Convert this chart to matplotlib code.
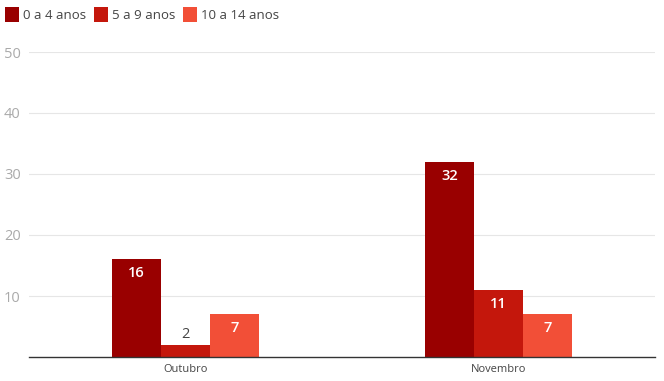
import matplotlib.pyplot as plt
import numpy as np

plt.rcParams['font.family'] = ['Open Sans', 'DejaVu Sans']

categories = ['Outubro', 'Novembro']
series_names = ['0 a 4 anos', '5 a 9 anos', '10 a 14 anos']
values = [
    [16, 32],
    [2, 11],
    [7, 7],
]
colors = ['#990000', '#c4170c', '#f24f37']
yticks = [10, 20, 30, 40, 50]

fig = plt.figure(figsize=(6.64, 3.81), dpi=100)
ax = fig.add_axes([29 / 664, 24 / 381, 626 / 664, 305 / 381])

x = np.arange(len(categories))
w = 0.156
for i, (name, vals, c) in enumerate(zip(series_names, values, colors)):
    pos = x + (i - 1) * w
    bars = ax.bar(pos, vals, width=w, color=c, label=name)
    for b, v in zip(bars, vals):
        cx = b.get_x() + b.get_width() / 2
        if v >= 5:
            ax.annotate(str(v), (cx, v), xytext=(0, -5), textcoords='offset points',
                        ha='center', va='top', color='white', fontsize=10.5,
                        fontweight='semibold')
        else:
            ax.annotate(str(v), (cx, v), xytext=(0, 2), textcoords='offset points',
                        ha='center', va='bottom', color='#444444', fontsize=10.5)

ax.set_xlim(-0.5, 1.5)
ax.set_ylim(0, 50)
ax.set_yticks(yticks)
ax.set_xticks(x)
ax.set_xticklabels(categories)
ax.tick_params(axis='y', length=0, labelsize=10.5, labelcolor='#aaaaaa', pad=6)
ax.tick_params(axis='x', length=0, labelsize=8, labelcolor='#444444', pad=5)
ax.grid(axis='y', color='#e6e6e6', linewidth=0.8)
ax.set_axisbelow(True)
for s in ['top', 'right', 'left']:
    ax.spines[s].set_visible(False)
ax.spines['bottom'].set_color('#333333')
ax.spines['bottom'].set_linewidth(1)

fig.legend(loc='upper left', bbox_to_anchor=(-0.0105, 1.013), ncol=3, frameon=False,
           fontsize=9.5, handlelength=1.06, handleheight=1.4, handletextpad=0.3,
           columnspacing=0.6, labelcolor='#444444')

fig.savefig('out.png', dpi=100)
